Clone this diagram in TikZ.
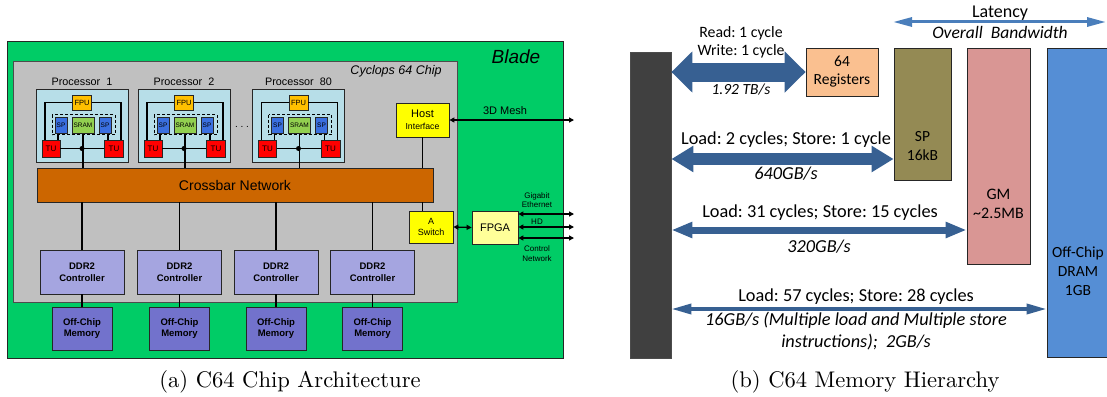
\documentclass[tikz,border=0pt]{standalone}
\usepackage{fontspec}
\newfontfamily\arialf{Liberation Sans}
\newfontfamily\calibf{Carlito}
\newfontfamily\capf{lmroman10-regular.otf}
\usetikzlibrary{arrows.meta,calc}
\frenchspacing
\newcommand\myaf[2]{\arialf\fontsize{#1}{#2}\selectfont}
\newcommand\mycf[2]{\calibf\fontsize{#1}{#2}\selectfont}
\definecolor{bladec}{HTML}{00CC66}
\definecolor{chipc}{HTML}{C0C0C0}
\definecolor{procc}{HTML}{B7DEE8}
\definecolor{fpuc}{HTML}{FFC000}
\definecolor{spc}{HTML}{3A6FE0}
\definecolor{sramc}{HTML}{92D050}
\definecolor{tuc}{HTML}{FF0000}
\definecolor{xbarc}{HTML}{CC6600}
\definecolor{ddrc}{HTML}{A5A5E0}
\definecolor{offmc}{HTML}{7272CC}
\definecolor{hostc}{HTML}{FFFF00}
\definecolor{fpgac}{HTML}{FFFF99}
\definecolor{barc}{HTML}{404040}
\definecolor{regc}{HTML}{FAC090}
\definecolor{spmc}{HTML}{948A54}
\definecolor{gmc}{HTML}{D99694}
\definecolor{dramc}{HTML}{558ED5}
\definecolor{arrc}{HTML}{376092}
\definecolor{latc}{HTML}{4A7EBB}
\begin{document}
\begin{tikzpicture}[x=1pt,y=-1pt,
  box/.style={draw=black!85, line width=0.8pt, inner sep=0pt, align=center},
  wire/.style={draw=black, line width=1.4pt},
  txt/.style={inner sep=0pt, align=center},
  smallarr/.style={draw=black, line width=1.3pt, {Triangle[length=5pt,width=5pt]}-{Triangle[length=5pt,width=5pt]}},
  bigarr/.style n args={4}{draw=arrc, line width=#1, {Triangle[length=#2,width=#3]}-{Triangle[length=#2,width=#3]}},
  mlabel/.style={txt, font=\mycf{18.3}{21}},
  milabel/.style={txt, font=\mycf{18.3}{21.5}\itshape},
  caption/.style={txt, font=\capf\fontsize{22.6}{26}\selectfont},
]
\path[use as bounding box] (0,0) rectangle (1107,396);

% ---------------- left panel ----------------
\node[draw=black!85, line width=1pt, fill=bladec, minimum width=556pt, minimum height=316pt, inner sep=0pt] (blade) at (285,200) {};
\node[txt, font=\myaf{19}{22}\itshape] (bladet) at (516,57) {Blade};
\node[draw=black!70, line width=0.9pt, fill=chipc, minimum width=444pt, minimum height=241pt, inner sep=0pt] (chip) at (235,181.5) {};
\node[txt, font=\myaf{12.5}{14}\itshape] (chipt) at (396,71) {Cyclops 64 Chip};

\node[box, fill=xbarc, minimum width=396pt, minimum height=34pt, font=\myaf{14}{16}] (xbar) at (235,185) {Crossbar Network};

\foreach \cx/\n/\lab in {82/1/{Processor~~1}, 184/2/{Processor~~2}, 298.5/3/{Processor~~80}}{
  \node[box, fill=procc, minimum width=92pt, minimum height=73pt] (pb\n) at (\cx,125.5) {};
  \node[txt, font=\myaf{10.8}{12}] (pl\n) at (\cx,82) {\lab};
  \node[box, fill=tuc, minimum width=18pt, minimum height=17pt, font=\myaf{8}{9}] (tl\n) at (\cx-31,148.5) {TU};
  \node[box, fill=tuc, minimum width=19pt, minimum height=17pt, font=\myaf{8}{9}] (tr\n) at (\cx+32,148.5) {TU};
  \node[box, fill=fpuc, minimum width=19pt, minimum height=15pt, font=\myaf{7.5}{9}] (fpu\n) at (\cx,102.5) {FPU};
  \draw[wire] ([xshift=-6pt]tl\n.north) |- (fpu\n.west);
  \draw[wire] (fpu\n.east) -| ([xshift=7pt]tr\n.north);
  \draw[dashed, line width=0.7pt, dash pattern=on 3pt off 2pt] (\cx-30,114.5) rectangle (\cx+33,134.5);
  \node[box, fill=spc, minimum width=12pt, minimum height=16pt, font=\myaf{6.5}{8}] (spl\n) at (\cx-21,125.5) {SP};
  \node[box, fill=sramc, minimum width=22pt, minimum height=16pt, font=\myaf{6.5}{8}] (sram\n) at (\cx+1,125.5) {SRAM};
  \node[box, fill=spc, minimum width=12pt, minimum height=16pt, font=\myaf{6.5}{8}] (spr\n) at (\cx+23,125.5) {SP};
  \draw[wire] ([xshift=-3pt]spl\n.south) -- ([xshift=-3pt]spl\n.south |- tl\n.north);
  \draw[wire] ([xshift=3pt]spr\n.south) -- ([xshift=3pt]spr\n.south |- tr\n.north);
  \draw[wire] (tl\n.east) -- (tr\n.west);
  \draw[wire] (sram\n.south) -- (sram\n.south |- xbar.north);
  \node[circle, fill=black, inner sep=0pt, minimum size=5pt] (j\n) at (\cx,148.5) {};
}
\node[txt, font=\myaf{10}{12}] (dots) at (242,127) {. . .};

\node[box, fill=hostc, minimum width=53pt, minimum height=34pt] (host) at (422.5,120)
  {\myaf{11}{12}Host\\[-0.5pt]\myaf{8.7}{10}Interface};
\draw[wire] (host.south) -- (host.south |- xbar.north);
\node[box, fill=hostc, minimum width=44pt, minimum height=32pt, font=\myaf{9}{11}] (sw) at (431,227) {A\\Switch};
\draw[wire] (host.south |- xbar.south) -- (host.south |- sw.north);
\node[box, fill=fpgac, minimum width=46pt, minimum height=33pt, font=\myaf{11}{13}] (fpga) at (495,227.5) {FPGA};
\draw[smallarr] (sw.east) -- (fpga.west);

\coordinate (meshend) at (574,120);
\draw[smallarr] (host.east) -- (meshend);
\node[txt, font=\myaf{11}{13}] (mesht) at (505,111) {3D Mesh};

\coordinate (g1) at (574,214);
\coordinate (g2) at (574,227);
\coordinate (g3) at (574,238);
\draw[smallarr] (fpga.east |- g1) -- (g1);
\draw[smallarr] (fpga.east |- g2) -- (g2);
\draw[smallarr] (fpga.east |- g3) -- (g3);
\node[txt, font=\myaf{8}{9.5}] (gbe) at (537,200) {Gigabit\\Ethernet};
\node[txt, font=\myaf{8}{9.5}] (hd) at (537,222) {HD};
\node[txt, font=\myaf{8}{10.5}] (cn) at (537,253.5) {Control\\Network};

\foreach \x/\n in {82/1,179.5/2,276/3,372.5/4}{
  \node[box, fill=ddrc, minimum width=84pt, minimum height=44pt, font=\myaf{9.5}{12}\bfseries] (ddr\n) at (\x,272) {DDR2\\Controller};
  \node[box, fill=offmc, minimum width=60pt, minimum height=43pt, font=\myaf{9.5}{11}\bfseries] (om\n) at (\x,328.5) {Off-Chip\\Memory};
  \draw[wire] (ddr\n.north |- xbar.south) -- (ddr\n.north);
  \draw[wire] (ddr\n.south) -- (om\n.north);
}

\node[caption] (capa) at (290,382) {(a) C64 Chip Architecture};

% ---------------- right panel ----------------
\node[draw=black!70, line width=0.8pt, fill=barc, minimum width=41pt, minimum height=306pt, inner sep=0pt] (bar) at (650.5,205) {};
\node[box, fill=regc, minimum width=72pt, minimum height=48pt, font=\mycf{15.5}{18}] (reg) at (842,72) {64\\Registers};
\node[box, fill=spmc, minimum width=57pt, minimum height=132pt] (sp) at (922.5,114) {};
\node[txt, font=\mycf{15.5}{19}] (spt) at (922.5,146.5) {SP\\16kB};
\node[box, fill=gmc, minimum width=63pt, minimum height=216pt] (gm) at (998.5,156) {};
\node[txt, font=\mycf{16}{19}] (gmt) at (998.5,204) {GM\\\textasciitilde2.5MB};
\node[box, fill=dramc, minimum width=62pt, minimum height=309pt] (dram) at (1078,202.5) {};
\node[txt, font=\mycf{15.5}{19}] (dramt) at (1078,271) {Off-Chip\\DRAM\\1GB};

\coordinate (a2) at (0,159);
\coordinate (a3) at (0,230);
\coordinate (a4) at (0,309);
\draw[bigarr={19pt}{21pt}{40pt}{}] (bar.east |- reg.west) -- (reg.west);
\draw[bigarr={12pt}{22pt}{25pt}{}] (bar.east |- a2) -- (sp.west |- a2);
\draw[bigarr={7pt}{21pt}{15pt}{}] (bar.east |- a3) -- (gm.west |- a3);
\draw[bigarr={3.5pt}{20pt}{10pt}{}] (bar.east |- a4) -- (dram.west |- a4);

\node[txt, font=\mycf{15.8}{19}] (rd) at (741,33) {Read: 1 cycle};
\node[txt, fill=white, inner ysep=1pt, font=\mycf{15.8}{19}] (wr) at (741,51) {Write: 1 cycle};
\node[txt, fill=white, inner ysep=1pt, font=\mycf{15.5}{19}\itshape] (bw1) at (741,90) {1.92 TB/s};
\node[mlabel] (l2) at (786,140) {Load: 2 cycles; Store: 1 cycle};
\node[milabel] (bw2) at (786,174) {640GB/s};
\node[mlabel] (l3) at (820,213) {Load: 31 cycles; Store: 15 cycles};
\node[milabel] (bw3) at (819,247) {320GB/s};
\node[mlabel] (l4) at (856,297) {Load: 57 cycles; Store: 28 cycles};
\node[milabel] (bw4) at (856,331) {16GB/s (Multiple load and Multiple store\\instructions);~~2GB/s};

\coordinate (lat1) at (893,22);
\coordinate (lat2) at (1106,22);
\draw[draw=latc, line width=3pt, {Triangle[length=19pt,width=9pt]}-{Triangle[length=19pt,width=9pt]}] (lat1) -- (lat2);
\node[txt, font=\mycf{18}{21}] (latt) at (1000,13) {Latency};
\node[txt, font=\mycf{17.5}{21}\itshape] (obw) at (1000,32) {Overall~~Bandwidth};

\node[caption] (capb) at (865,382) {(b) C64 Memory Hierarchy};
\end{tikzpicture}
\end{document}
